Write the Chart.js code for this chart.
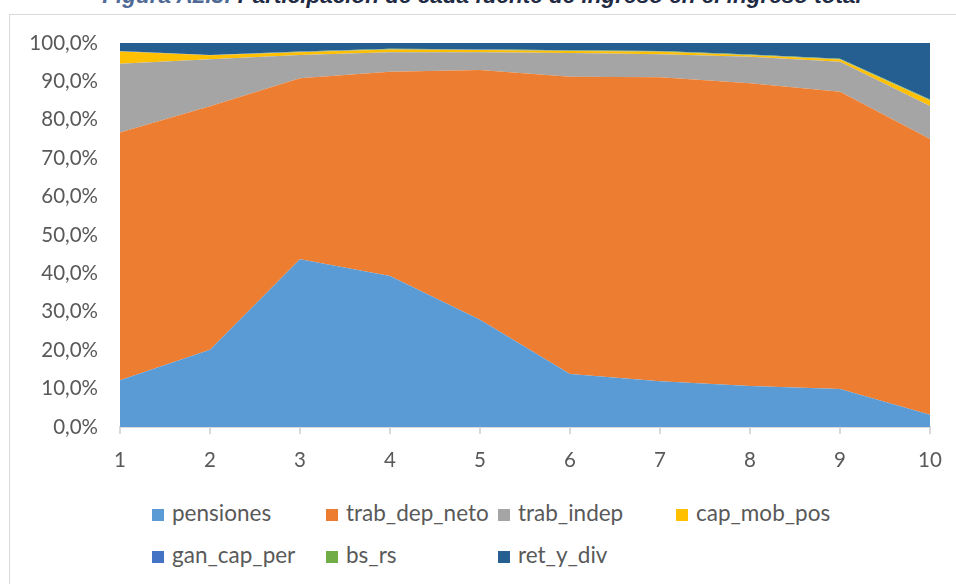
<!DOCTYPE html>
<html>
<head>
<meta charset="utf-8">
<script src="https://cdn.jsdelivr.net/npm/chart.js@4.4.1/dist/chart.umd.min.js"></script>
<style>
  body { margin: 0; background: #fff; width: 956px; height: 584px; overflow: hidden; position: relative; font-family: Lato, sans-serif; }
  #frame { position: absolute; left: 9px; top: 14px; width: 1000px; height: 700px; border: 1px solid #d9d9d9; box-sizing: border-box; }
  #title { position: absolute; left: 4px; width: 956px; top: -17px; text-align: center; font: italic bold 22.5px "Liberation Sans", Arial, sans-serif; color: #1f2a44; white-space: nowrap; }
  #title span { color: #4f6a96; }
  #chartBox { position: absolute; left: 0; top: 0; width: 956px; height: 470px; }
  .leg { position: absolute; font-size: 22.5px; color: #595959; white-space: nowrap; line-height: 22px; }
  .leg i { display: inline-block; width: 12px; height: 12px; margin-right: 8px; vertical-align: 0px; }
</style>
</head>
<body>
<div id="frame"></div>
<div id="title"><span>Figura A2.3:</span> Participación de cada fuente de ingreso en el ingreso total</div>
<div id="chartBox"><canvas id="areaChart"></canvas></div>
<div id="legend"></div>
<script>
// Deciles y participación (%) de cada fuente
const deciles = ['1', '2', '3', '4', '5', '6', '7', '8', '9', '10'];
const pensiones = [12.2, 20.1, 43.7, 39.3, 27.9, 13.8, 11.9, 10.7, 9.9, 3.2];
const trabDepNeto = [64.5, 63.4, 47.1, 53.2, 65.1, 77.4, 79.2, 78.8, 77.4, 71.8];
const trabIndep = [17.9, 12.3, 6.1, 5.1, 4.6, 6.2, 6.0, 6.9, 7.8, 8.6];
const capMobPos = [3.2, 1.0, 0.7, 0.7, 0.6, 0.5, 0.6, 0.4, 0.6, 1.4];
const ganCapPer = [0.1, 0.1, 0.1, 0.1, 0.1, 0.1, 0.1, 0.1, 0.1, 0.1];
const bsRs = [0.0, 0.0, 0.1, 0.1, 0.1, 0.1, 0.1, 0.1, 0.1, 0.2];
const retYDiv = [2.1, 3.1, 2.2, 1.5, 1.6, 1.9, 2.1, 3.0, 4.1, 14.7];
const yTicks = [0, 10, 20, 30, 40, 50, 60, 70, 80, 90, 100];

const series = [
    { label: 'pensiones', data: pensiones, color: '#5B9BD5' },
    { label: 'trab_dep_neto', data: trabDepNeto, color: '#ED7D31' },
    { label: 'trab_indep', data: trabIndep, color: '#A5A5A5' },
    { label: 'cap_mob_pos', data: capMobPos, color: '#FFC000' },
    { label: 'gan_cap_per', data: ganCapPer, color: '#4472C4' },
    { label: 'bs_rs', data: bsRs, color: '#70AD47' },
    { label: 'ret_y_div', data: retYDiv, color: '#255E91' }
];

var ctx = document.getElementById('areaChart').getContext('2d');
var areaChart = new Chart(ctx, {
    type: 'line',
    data: {
        labels: deciles,
        datasets: series.map(function(s, i) {
            return {
                label: s.label,
                data: s.data,
                backgroundColor: s.color,
                borderColor: s.color,
                borderWidth: 0,
                pointRadius: 0,
                fill: i === 0 ? 'origin' : '-1',
                tension: 0
            };
        })
    },
    options: {
        responsive: true,
        maintainAspectRatio: false,
        animation: false,
        layout: { padding: { top: 43, right: 26, left: 0, bottom: 0 } },
        plugins: { legend: { display: false }, tooltip: { enabled: false } },
        scales: {
            x: {
                offset: false,
                grid: { drawOnChartArea: false, color: '#d9d9d9', tickLength: 7, lineWidth: 2 },
                border: { color: '#d9d9d9', width: 2 },
                ticks: { color: '#595959', font: { family: 'Lato', size: 20.5 }, padding: 14, maxRotation: 0 },
                afterFit: function(scale) { scale.height = 43; }
            },
            y: {
                stacked: true,
                min: 0,
                max: 100,
                afterBuildTicks: function(scale) { scale.ticks = yTicks.map(function(v) { return { value: v }; }); },
                grid: { display: false },
                border: { display: false },
                ticks: {
                    color: '#595959',
                    font: { family: 'Lato', size: 20.5 },
                    padding: 14,
                    callback: function(v) { return v.toFixed(1).replace('.', ',') + '%'; }
                },
                afterFit: function(scale) { scale.width = 120; }
            }
        }
    }
});

// Leyenda en rejilla como en el original
var legendPos = [[152, 502], [326, 502], [498, 502], [676, 502], [152, 544], [326, 544], [498, 544]];
var legend = document.getElementById('legend');
series.forEach(function(s, i) {
    var d = document.createElement('div');
    d.className = 'leg';
    d.style.left = legendPos[i][0] + 'px';
    d.style.top = legendPos[i][1] + 'px';
    d.innerHTML = '<i style="background:' + s.color + '"></i>' + s.label;
    legend.appendChild(d);
});
</script>
</body>
</html>
